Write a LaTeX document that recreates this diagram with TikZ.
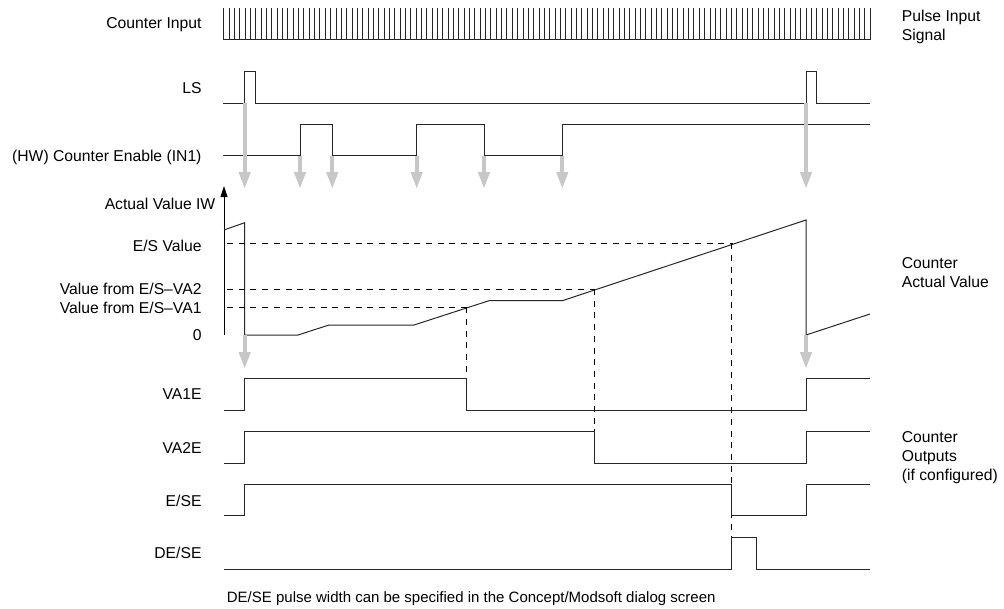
\documentclass[tikz,border=0pt]{standalone}
\usepackage{fontspec}
\setmainfont{Liberation Sans}
\usetikzlibrary{arrows.meta}
\begin{document}
\begin{tikzpicture}[x=1pt,y=-1pt,
  lbl/.style={font=\fontsize{15.7}{19}\selectfont, inner sep=0pt},
  leftlbl/.style={lbl, anchor=base east},
  rightlbl/.style={lbl, anchor=base west, align=left},
  sig/.style={line width=1pt, black!85, line join=miter},
  combtick/.style={line width=1pt, black!85},
  guide/.style={line width=0.8pt, dash pattern=on 6pt off 5.7pt},
  trig/.style={line width=4pt, black!22, -{Triangle[length=17pt,width=11pt]}},
  axis/.style={line width=1pt, -{Triangle[length=11pt,width=7pt]}},
]
\useasboundingbox (0,0) rectangle (1004,608);

% ---- signal names on the left
\node[leftlbl] (lci)  at (201.7,28.6)  {Counter Input};
\node[leftlbl] (lls)  at (201.7,93.6)  {LS};
\node[leftlbl] (len)  at (201.7,161.6) {(HW) Counter Enable (IN1)};
\node[leftlbl] (lav)  at (215.5,209.6) {Actual Value IW};
\node[leftlbl] (les)  at (201.7,251.2) {E/S Value};
\node[leftlbl] (lva2) at (201.7,294.6) {Value from E/S–VA2};
\node[leftlbl] (lva1) at (201.7,313.6) {Value from E/S–VA1};
\node[leftlbl] (lzero) at (201.7,340.6) {0};
\node[leftlbl] (lo1)  at (201.7,399.6) {VA1E};
\node[leftlbl] (lo2)  at (201.7,453.6) {VA2E};
\node[leftlbl] (lo3)  at (201.7,506.2) {E/SE};
\node[leftlbl] (lo4)  at (201.7,558.6) {DE/SE};

% ---- group descriptions on the right (anchored at the last line)
\node[rightlbl] (rpulse) at (901.7,40.6)  {Pulse Input\\Signal};
\node[rightlbl] (rvalue) at (901.7,287.4) {Counter\\Actual Value};
\node[rightlbl] (rout)   at (901.7,480.2) {Counter\\Outputs\\(if configured)};

% ---- footnote
\node[lbl, font=\fontsize{15}{18}\selectfont, anchor=base west] (note) at (226.7,602.4)
  {DE/SE pulse width can be specified in the Concept/Modsoft dialog screen};

% ---- counter input pulse train
\draw[combtick] (223.3,39.5) -- (870,39.5);
\foreach \i in {0,...,121}
  \draw[combtick] ({223.8+\i*5.343},8) -- ({223.8+\i*5.343},39.5);

% ---- LS
\draw[sig] (223.3,103) -- (244.7,103) -- (244.7,71) -- (255,71) -- (255,103)
  -- (806,103) -- (806,71) -- (816.7,71) -- (816.7,103) -- (870,103);

% ---- counter enable
\draw[sig] (223.3,155.7) -- (300,155.7) -- (300,124) -- (332.3,124) -- (332.3,155.7)
  -- (416.7,155.7) -- (416.7,124) -- (484,124) -- (484,155.7)
  -- (562.3,155.7) -- (562.3,124) -- (870,124);

% ---- actual value axis and curve
\draw[axis] (224,335) -- (224,186);
\draw[sig] (224,230) -- (244.7,222.7) -- (244.7,335) -- (298,335) -- (329,325)
  -- (414,325) -- (489,300.7) -- (562.3,300.7) -- (806,220) -- (806,335) -- (870,314);

% ---- compare values
\draw[guide] (227,243.3) -- (733,243.3);
\draw[guide] (227,289) -- (595,289);
\draw[guide] (227,307.3) -- (467,307.3);
\draw[guide] (466.7,307.3) -- (466.7,378.3);
\draw[guide] (594.3,289) -- (594.3,431);
\draw[guide] (731.7,243.3) -- (731.7,537.3);

% ---- counter outputs
\draw[sig] (224,410) -- (244.7,410) -- (244.7,378.3) -- (466.7,378.3) -- (466.7,410)
  -- (806,410) -- (806,378.3) -- (870,378.3);
\draw[sig] (224,463.3) -- (244.7,463.3) -- (244.7,431) -- (594.3,431) -- (594.3,463.3)
  -- (806,463.3) -- (806,431) -- (870,431);
\draw[sig] (224,515) -- (244.7,515) -- (244.7,484.3) -- (731.7,484.3) -- (731.7,515)
  -- (806,515) -- (806,484.3) -- (870,484.3);
\draw[sig] (224,569.3) -- (731.7,569.3) -- (731.7,537.3) -- (756,537.3) -- (756,569.3)
  -- (870,569.3);

% ---- trigger edges
\coordinate (ls1) at (244.7,103);   \coordinate (ls1t) at (244.7,189);
\coordinate (ls2) at (806,103);     \coordinate (ls2t) at (806,189);
\coordinate (en1) at (300,155.7);   \coordinate (en1t) at (300,189);
\coordinate (en2) at (332.3,155.7); \coordinate (en2t) at (332.3,189);
\coordinate (en3) at (416.7,155.7); \coordinate (en3t) at (416.7,189);
\coordinate (en4) at (484,155.7);   \coordinate (en4t) at (484,189);
\coordinate (en5) at (562.3,155.7); \coordinate (en5t) at (562.3,189);
\coordinate (rs1) at (244.7,335);   \coordinate (rs1t) at (244.7,369);
\coordinate (rs2) at (806,335);     \coordinate (rs2t) at (806,369);

\draw[trig] (ls1) -- (ls1t);
\draw[trig] (ls2) -- (ls2t);
\draw[trig] (en1) -- (en1t);
\draw[trig] (en2) -- (en2t);
\draw[trig] (en3) -- (en3t);
\draw[trig] (en4) -- (en4t);
\draw[trig] (en5) -- (en5t);
\draw[trig] (rs1) -- (rs1t);
\draw[trig] (rs2) -- (rs2t);
\end{tikzpicture}
\end{document}
